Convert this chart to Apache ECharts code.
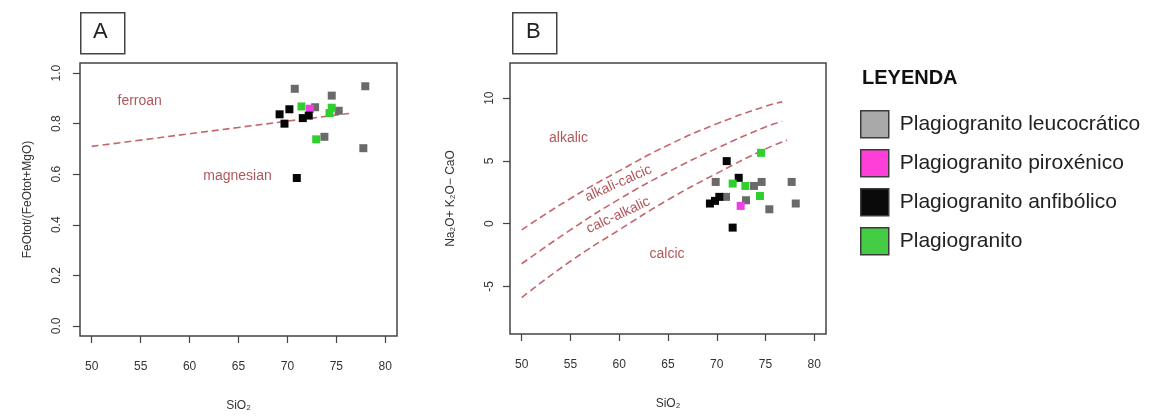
<!DOCTYPE html>
<html>
<head>
<meta charset="utf-8">
<script src="https://cdn.jsdelivr.net/npm/echarts@6/dist/echarts.min.js"></script>
<style>
html,body{margin:0;padding:0;background:#fff;}
#chart{width:1155px;height:417px;}
</style>
</head>
<body>
<div id="chart"></div>
<script>
// ---------- data ----------
var groupNames = ['Plagiogranito leucocrático', 'Plagiogranito piroxénico', 'Plagiogranito anfibólico', 'Plagiogranito'];

// Panel A: SiO2 vs FeOtot/(FeOtot+MgO)
var aLeucoX = [70.75, 77.96, 74.53, 72.83, 75.24, 73.78, 77.76];
var aLeucoY = [0.938, 0.948, 0.911, 0.865, 0.851, 0.748, 0.703];
var aPiroxX = [72.3];
var aPiroxY = [0.859];
var aAnfX = [69.2, 70.2, 69.7, 71.57, 72.18, 70.96];
var aAnfY = [0.837, 0.857, 0.80, 0.822, 0.832, 0.585];
var aPlagX = [71.44, 74.53, 74.3, 72.94];
var aPlagY = [0.868, 0.863, 0.842, 0.738];

// Ferroan / magnesian boundary
var aBoundX = [50, 55, 60, 65, 70, 76.3];
var aBoundY = [0.71, 0.735, 0.76, 0.785, 0.81, 0.84];

// Panel B: SiO2 vs Na2O+K2O-CaO
var bLeucoX = [69.89, 77.68, 74.6, 73.82, 73.0, 75.39, 78.1, 70.95];
var bLeucoY = [3.32, 3.32, 3.32, 3.0, 1.86, 1.14, 1.6, 2.13];
var bPiroxX = [72.45];
var bPiroxY = [1.41];
var bAnfX = [71.02, 72.25, 71.63, 69.3, 69.82, 70.26];
var bAnfY = [4.98, 3.65, -0.32, 1.6, 1.81, 2.13];
var bPlagX = [74.54, 71.63, 72.93, 74.43];
var bPlagY = [5.64, 3.19, 3.0, 2.2];

// MALI boundaries
var bLine1X = [50, 55, 60, 65, 70, 75, 76.7];
var bLine1Y = [-0.5, 2.0, 4.2, 6.25, 7.95, 9.35, 9.7];
var bLine2X = [50, 55, 60, 65, 70, 75, 76.7];
var bLine2Y = [-3.2, -0.5, 1.95, 4.1, 6.0, 7.7, 8.15];
var bLine3X = [50, 55, 60, 65, 70, 75, 77.2];
var bLine3Y = [-5.9, -3.0, -0.5, 1.9, 4.0, 5.95, 6.65];

// Field labels
var aFieldNames = ['ferroan', 'magnesian'];
var aFieldX = [54.9, 64.9];
var aFieldY = [0.888, 0.592];
var bFieldNames = ['alkalic', 'alkali-calcic', 'calc-alkalic', 'calcic'];
var bFieldX = [54.8, 59.9, 59.9, 64.9];
var bFieldY = [6.8, 3.2, 0.66, -2.4];

// Tick labels
var xTicks = [50, 55, 60, 65, 70, 75, 80];
var aYTicks = [0, 0.2, 0.4, 0.6, 0.8, 1.0];
var bYTicks = [-5, 0, 5, 10];

// ---------- styles ----------
var FONT = 'Liberation Sans, Arial, sans-serif';
var plotColors = ['#6a6a6a', '#ee3ee8', '#050505', '#2fcf2f'];
var legendColors = ['#a9a9a9', '#ff3fd8', '#0a0a0a', '#44cc44'];
var fieldColor = '#9e2a2e';
var lineColor = '#c4676d';

function zip(xs, ys) { return xs.map(function (x, i) { return [x, ys[i]]; }); }

function xAxisFor(gi) {
  return {
    type: 'value', gridIndex: gi, min: 48.8, max: 81.2,
    name: 'SiO₂', nameLocation: 'middle', nameGap: 64,
    nameTextStyle: { fontFamily: FONT, fontSize: 12, color: '#333' },
    axisLine: { show: false, onZero: false },
    splitLine: { show: false },
    axisTick: { show: true, inside: false, length: 7, customValues: xTicks, lineStyle: { color: '#444', width: 1.2 } },
    axisLabel: { customValues: xTicks, margin: 25, fontFamily: FONT, fontSize: 12, color: '#333' }
  };
}

function scatterSeries(name, xs, ys, color, gi) {
  return {
    type: 'scatter', name: name, xAxisIndex: gi, yAxisIndex: gi,
    data: zip(xs, ys), symbol: 'rect', symbolSize: 8,
    itemStyle: { color: color, opacity: 1 },
    emphasis: { disabled: true }, z: 5
  };
}

function lineSeries(xs, ys, gi) {
  return {
    type: 'line', xAxisIndex: gi, yAxisIndex: gi, data: zip(xs, ys),
    smooth: true, symbol: 'none', silent: true,
    lineStyle: { color: lineColor, width: 1.6, type: [7, 4] }, z: 3
  };
}

function fieldSeries(names, xs, ys, rots, gi) {
  return {
    type: 'scatter', xAxisIndex: gi, yAxisIndex: gi, symbolSize: 0, silent: true,
    data: names.map(function (n, i) {
      return { name: n, value: [xs[i], ys[i]], label: { rotate: rots[i] } };
    }),
    label: {
      show: true, position: 'inside', formatter: '{b}',
      fontFamily: FONT, fontSize: 14, color: fieldColor
    },
    z: 4
  };
}

var option = {
  backgroundColor: '#ffffff',
  animation: false,
  title: {
    text: 'LEYENDA', left: 862, top: 68, padding: 0,
    textStyle: { fontFamily: FONT, fontSize: 20, fontWeight: 'bold', color: '#111' }
  },
  legend: {
    orient: 'vertical', left: 860, top: 110, padding: 0,
    itemWidth: 28, itemHeight: 27, itemGap: 10.5, icon: 'rect',
    textStyle: { fontFamily: FONT, fontSize: 21, color: '#222', padding: [0, 0, 0, 6] },
    data: groupNames.map(function (n, i) {
      return { name: n, itemStyle: { color: legendColors[i], borderColor: '#3a3a3a', borderWidth: 1.5 } };
    }),
    selectedMode: false
  },
  grid: [
    { left: 80, top: 63, width: 317, height: 273, show: true, borderColor: '#444', borderWidth: 1.5, backgroundColor: 'transparent' },
    { left: 510, top: 63, width: 316, height: 271, show: true, borderColor: '#444', borderWidth: 1.5, backgroundColor: 'transparent' }
  ],
  xAxis: [xAxisFor(0), xAxisFor(1)],
  yAxis: [
    {
      type: 'value', gridIndex: 0, min: -0.04, max: 1.04,
      name: 'FeOtot/(FeOtot+MgO)', nameLocation: 'middle', nameGap: 46, nameRotate: 90,
      nameTextStyle: { fontFamily: FONT, fontSize: 12, color: '#333' },
      axisLine: { show: false, onZero: false }, splitLine: { show: false },
      axisTick: { show: true, inside: false, length: 7, customValues: aYTicks, lineStyle: { color: '#444', width: 1.2 } },
      axisLabel: { customValues: aYTicks, rotate: 90, margin: 17, fontFamily: FONT, fontSize: 12, color: '#333',
        formatter: function (v) { return v.toFixed(1); } }
    },
    {
      type: 'value', gridIndex: 1, min: -8.8, max: 12.8,
      name: 'Na₂O+ K₂O− CaO', nameLocation: 'middle', nameGap: 53, nameRotate: 90,
      nameTextStyle: { fontFamily: FONT, fontSize: 12, color: '#333' },
      axisLine: { show: false, onZero: false }, splitLine: { show: false },
      axisTick: { show: true, inside: false, length: 7, customValues: bYTicks, lineStyle: { color: '#444', width: 1.2 } },
      axisLabel: { customValues: bYTicks, rotate: 90, margin: 14, fontFamily: FONT, fontSize: 12, color: '#333' }
    }
  ],
  graphic: [
    { type: 'rect', left: 80, top: 12, shape: { width: 44, height: 41 }, style: { fill: '#fff', stroke: '#444', lineWidth: 1.5 } },
    { type: 'text', left: 93, top: 21, style: { text: 'A', font: '22px ' + FONT, fill: '#222' } },
    { type: 'rect', left: 512, top: 12, shape: { width: 44, height: 41 }, style: { fill: '#fff', stroke: '#444', lineWidth: 1.5 } },
    { type: 'text', left: 526, top: 21, style: { text: 'B', font: '22px ' + FONT, fill: '#222' } }
  ],
  series: [
    lineSeries(aBoundX, aBoundY, 0),
    fieldSeries(aFieldNames, aFieldX, aFieldY, [0, 0], 0),
    scatterSeries(groupNames[0], aLeucoX, aLeucoY, plotColors[0], 0),
    scatterSeries(groupNames[1], aPiroxX, aPiroxY, plotColors[1], 0),
    scatterSeries(groupNames[2], aAnfX, aAnfY, plotColors[2], 0),
    scatterSeries(groupNames[3], aPlagX, aPlagY, plotColors[3], 0),

    lineSeries(bLine1X, bLine1Y, 1),
    lineSeries(bLine2X, bLine2Y, 1),
    lineSeries(bLine3X, bLine3Y, 1),
    fieldSeries(bFieldNames, bFieldX, bFieldY, [0, 24, 25, 0], 1),
    scatterSeries(groupNames[0], bLeucoX, bLeucoY, plotColors[0], 1),
    scatterSeries(groupNames[1], bPiroxX, bPiroxY, plotColors[1], 1),
    scatterSeries(groupNames[2], bAnfX, bAnfY, plotColors[2], 1),
    scatterSeries(groupNames[3], bPlagX, bPlagY, plotColors[3], 1)
  ]
};

var chart = echarts.init(document.getElementById('chart'), null, { renderer: 'canvas' });
chart.setOption(option);
</script>
</body>
</html>
